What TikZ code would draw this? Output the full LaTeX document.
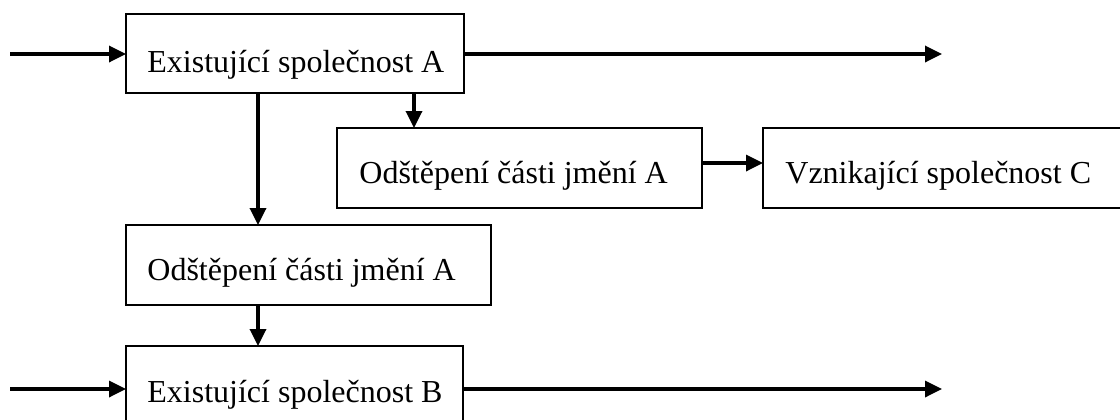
\documentclass[tikz,border=0pt]{standalone}
\usepackage{fontspec}
\setmainfont{Liberation Serif}
\usetikzlibrary{arrows.meta,calc}
\begin{document}
\begin{tikzpicture}[x=0.5pt,y=-0.5pt,
  box/.style={draw,line width=1pt,rectangle,anchor=north west,inner sep=0pt,outer sep=0pt},
  lbl/.style={anchor=base west,inner sep=0pt,font=\fontsize{16}{19}\selectfont},
  flow/.style={line width=1.7pt,-{Triangle[length=8.5pt,width=8pt]}}]
\useasboundingbox (0,0) rectangle (1120,419);
\clip (0,0) rectangle (1120,419);
% boxes (the right one and the bottom one run past the frame)
\node[box,minimum width=169pt,minimum height=39.5pt] (b1) at (126,14) {};
\node[box,minimum width=182.5pt,minimum height=40pt] (b2) at (337,128) {};
\node[box,minimum width=190pt,minimum height=40pt] (b3) at (763,128) {};
\node[box,minimum width=182.5pt,minimum height=40pt] (b4) at (126,225) {};
\node[box,minimum width=168.5pt,minimum height=42pt] (b5) at (126,346) {};
% labels
\node[lbl] (t1) at ($(b1.north west)+(21,58)$) {Existující společnost A};
\node[lbl] (t2) at ($(b2.north west)+(22,55)$) {Odštěpení části jmění A};
\node[lbl] (t3) at ($(b3.north west)+(22,55)$) {Vznikající společnost C};
\node[lbl] (t4) at ($(b4.north west)+(21,55)$) {Odštěpení části jmění A};
\node[lbl] (t5) at ($(b5.north west)+(21,56)$) {Existující společnost B};
% free ends
\coordinate (inA) at (10,54);
\coordinate (outA) at (942,54);
\coordinate (inB) at (10,389);
\coordinate (outB) at (942,389);
% connectors
\draw[flow] (inA) -- (inA -| b1.west);
\draw[flow] (outA -| b1.east) -- (outA);
\draw[flow] (b1.south -| 414,0) -- (b2.north -| 414,0);
\draw[flow] (b1.south -| 258,0) -- (b4.north -| 258,0);
\draw[flow] (b2.east |- 0,163) -- (b3.west |- 0,163);
\draw[flow] (b4.south -| 258,0) -- (b5.north -| 258,0);
\draw[flow] (inB) -- (inB -| b5.west);
\draw[flow] (outB -| b5.east) -- (outB);
\end{tikzpicture}
\end{document}
